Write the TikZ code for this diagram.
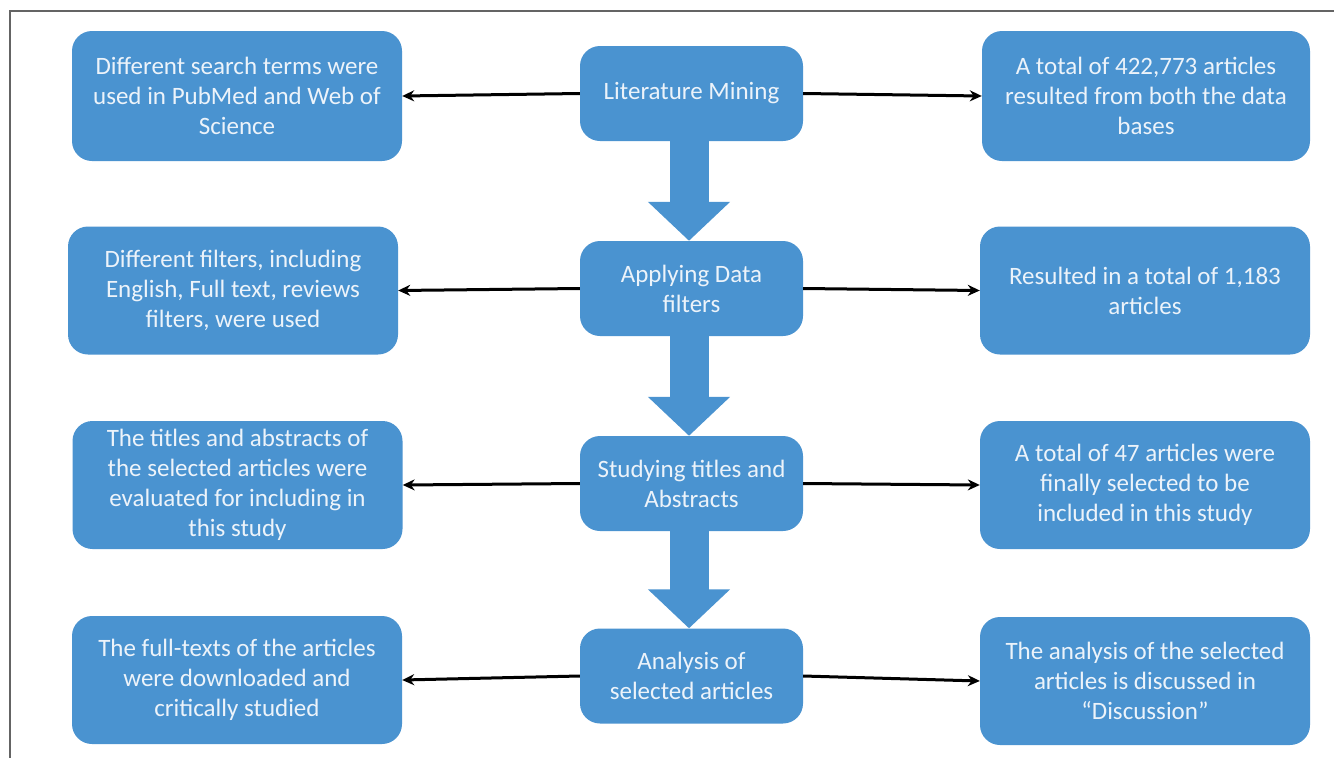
\documentclass[tikz,border=0pt]{standalone}
\usepackage{fontspec}
\setmainfont{Carlito}
\usetikzlibrary{arrows.meta}
\definecolor{boxblue}{RGB}{74,147,208}
\definecolor{boxtext}{RGB}{236,243,250}
\definecolor{frame}{RGB}{100,100,100}
\tikzset{
  fbox/.style={rectangle, rounded corners=20pt, fill=boxblue, text=boxtext,
    align=center, inner sep=0pt,
    font=\fontsize{25pt}{30pt}\selectfont},
  sidebox/.style={fbox, minimum width=330pt, minimum height=128pt},
  midbox/.style={fbox, minimum width=223pt, minimum height=95pt},
  sidearrow/.style={line width=3pt, -{Stealth[length=12pt,width=11pt]}},
  blockarrow/.style={line width=39pt, boxblue, -{Triangle[length=39pt,width=80pt]}}
}
\begin{document}
\begin{tikzpicture}[x=1pt,y=-1pt]
\useasboundingbox (0,0) rectangle (1334,758);
\fill[white] (0,0) rectangle (1334,758);
\draw[frame, line width=2.5pt] (10,758) -- (10,11) -- (1334,11);

% centre column
\node[midbox] (c1) at (691.5,93.5) {Literature Mining};
\node[midbox] (c2) at (691.5,288.5) {Applying Data\\filters};
\node[midbox] (c3) at (691.5,483.5) {Studying titles and\\Abstracts};
\node[midbox] (c4) at (691.5,676) {Analysis of\\selected articles};

% left column
\node[sidebox, minimum height=130pt] (l1) at (237,96) {Different search terms were\\used in PubMed and Web of\\Science};
\node[sidebox] (l2) at (233,290.5) {Different filters, including\\English, Full text, reviews\\filters, were used};
\node[sidebox] (l3) at (237.5,485) {The titles and abstracts of\\the selected articles were\\evaluated for including in\\this study};
\node[sidebox] (l4) at (237,680) {The full-texts of the articles\\were downloaded and\\critically studied};

% right column
\node[sidebox, minimum width=328pt, minimum height=130pt] (r1) at (1146,96) {A total of 422,773 articles\\resulted from both the data\\bases};
\node[sidebox] (r2) at (1145,290.5) {Resulted in a total of 1,183\\articles};
\node[sidebox] (r3) at (1145,485) {A total of 47 articles were\\finally selected to be\\included in this study};
\node[sidebox] (r4) at (1145,681) {The analysis of the selected\\articles is discussed in\\“Discussion”};

% block arrows
\draw[blockarrow] ([xshift=-2.5pt]c1.south) -- ([xshift=-2.5pt]c2.north);
\draw[blockarrow] ([xshift=-2.5pt]c2.south) -- ([xshift=-2.5pt]c3.north);
\draw[blockarrow] ([xshift=-2.5pt]c3.south) -- ([xshift=-2.5pt]c4.north);

% side arrows
\foreach \i in {1,2,3,4}{
  \draw[sidearrow] (c\i.west) -- (l\i.east);
  \draw[sidearrow] (c\i.east) -- (r\i.west);
}
\end{tikzpicture}
\end{document}
